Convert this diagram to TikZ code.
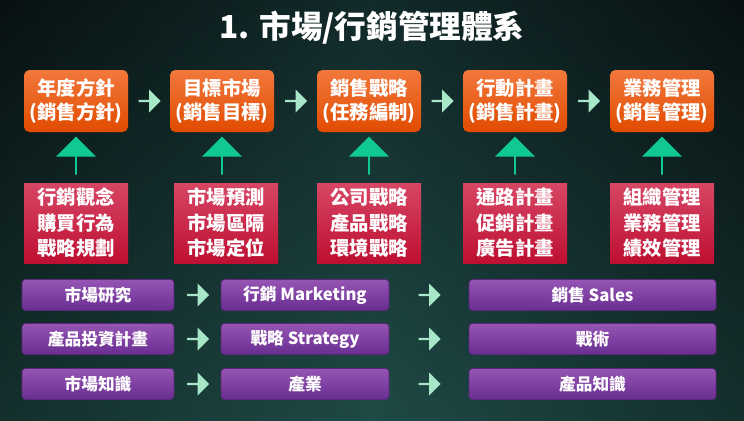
\documentclass[tikz,border=0pt]{standalone}
\usepackage{fontspec}
\setmainfont{Noto Sans CJK TC}
\usetikzlibrary{shapes.arrows,calc}
\definecolor{bgtop}{HTML}{0C1A1C}
\definecolor{bgbot}{HTML}{1F4A46}
\newlength{\pxu}\setlength{\pxu}{0.02cm}
\tikzset{
 ob/.style={rounded corners=3pt,top color={rgb,255:red,242;green,120;blue,60},bottom color={rgb,255:red,225;green,75;blue,0},minimum width=104\pxu,minimum height=62\pxu,text=white,font=\bfseries\fontsize{11}{14}\selectfont,align=center,inner sep=0pt},
 rb/.style={top color={rgb,255:red,215;green,70;blue,100},bottom color={rgb,255:red,190;green,15;blue,50},minimum width=104\pxu,minimum height=80\pxu,text=white,font=\bfseries\fontsize{11}{14.5}\selectfont,align=center,inner sep=0pt},
 pb/.style={rounded corners=2pt,top color={rgb,255:red,150;green,85;blue,180},bottom color={rgb,255:red,105;green,45;blue,145},draw={rgb,255:red,90;green,40;blue,120},minimum height=31\pxu,text=white,font=\bfseries\fontsize{9.5}{11}\selectfont,inner sep=0pt},
 la/.style={single arrow,fill={rgb,255:red,168;green,230;blue,200},minimum width=23\pxu,minimum height=22\pxu,single arrow head extend=2pt,inner sep=0pt},
 ga/.style={single arrow,shape border rotate=90,fill={rgb,255:red,16;green,200;blue,145},minimum width=40\pxu,minimum height=38\pxu,single arrow head extend=4pt,inner sep=0pt}
}
\begin{document}
\begin{tikzpicture}[x=0.02cm,y=-0.02cm]
\shade[top color=bgtop,bottom color=bgbot] (0,0) rectangle (744,420);
\shade[left color=black,right color=black,middle color=bgbot,opacity=0.35] (0,0) rectangle (744,420);
\useasboundingbox (0,0) rectangle (744,420);
\node[text=white,font=\bfseries\fontsize{18}{20}\selectfont] (title) at (372,28) {1. 市場/行銷管理體系};
\foreach \i/\x/\a/\b in {1/76/年度方針/銷售方針,2/222/目標市場/銷售目標,3/369/銷售戰略/任務編制,4/515/行動計畫/銷售計畫,5/662/業務管理/銷售管理}{
 \node[ob] (o\i) at (\x,101) {\a\\(\b)};
 \node[ga] (g\i) at (\x,156) {};
}
\node[rb] (r1) at (76,223) {行銷觀念\\購買行為\\戰略規劃};
\node[rb] (r2) at (226,223) {市場預測\\市場區隔\\市場定位};
\node[rb] (r3) at (369,223) {公司戰略\\產品戰略\\環境戰略};
\node[rb] (r4) at (515,223) {通路計畫\\促銷計畫\\廣告計畫};
\node[rb] (r5) at (662,223) {組織管理\\業務管理\\績效管理};
\foreach \i/\j in {1/2,2/3,3/4,4/5}{
 \node[la] (a\i) at ($(o\i.east)!0.5!(o\j.west)$) {};
}
\foreach \r/\y/\a/\b/\c in {1/295/市場研究/行銷 Marketing/銷售 Sales,2/339/產品投資計畫/戰略 Strategy/戰術/方案 Action,3/384/市場知識/產業/產品知識/業務知識(銷售技巧)}{
 \node[pb,minimum width=152\pxu] (p\r a) at (98,\y) {\a};
 \node[pb,minimum width=168\pxu] (p\r b) at (305,\y) {\b};
 \node[pb,minimum width=247\pxu] (p\r c) at (592.5,\y) {\c};
 \node[la] (q\r a) at ($(p\r a.east)!0.5!(p\r b.west)$) {};
 \node[la] (q\r b) at ($(p\r b.east)!0.5!(p\r c.west)$) {};
}
\end{tikzpicture}
\end{document}
